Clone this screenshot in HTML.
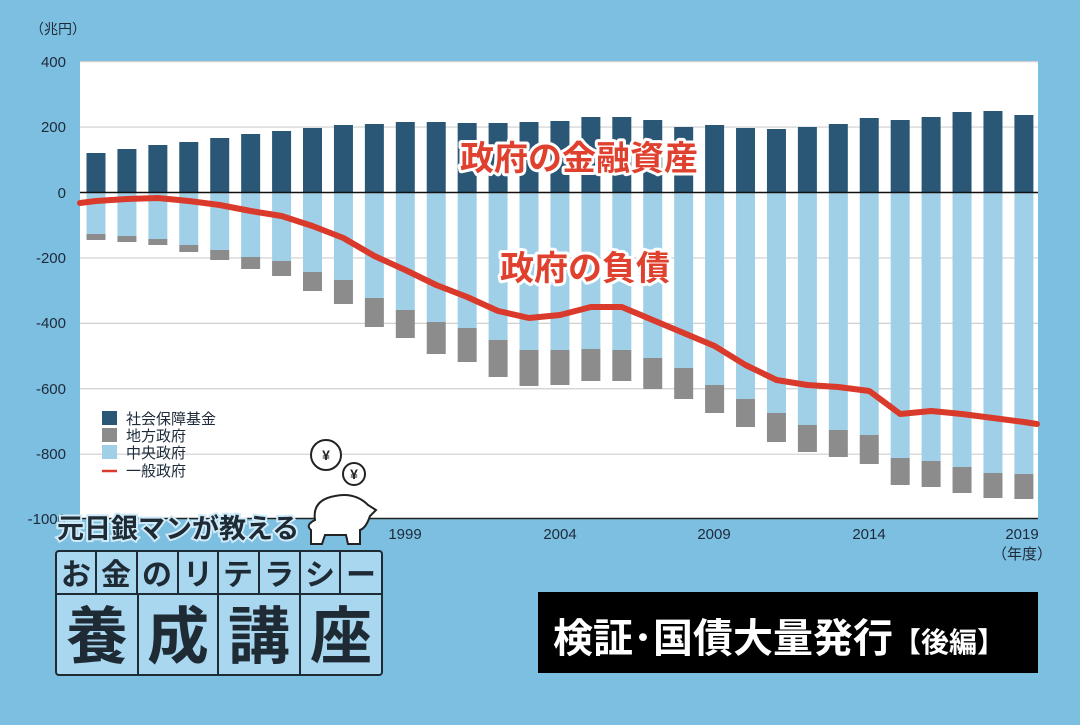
<!DOCTYPE html>
<html><head><meta charset="utf-8">
<style>
html,body{margin:0;padding:0;}
body{width:1080px;height:720px;overflow:hidden;background:#7dbfe0;font-family:"Liberation Sans","Noto Sans CJK JP",sans-serif;}
svg text{font-family:"Liberation Sans","Noto Sans CJK JP",sans-serif;}
</style></head><body>
<svg id="s" width="1080" height="720" xmlns="http://www.w3.org/2000/svg">
<rect x="0" y="0" width="1080" height="720" fill="#7dbfe0"/>
<rect x="80" y="62" width="958" height="457" fill="#ffffff"/>
<g id="grid"></g>
<g id="bars"></g>
<line x1="80" y1="192.5" x2="1038" y2="192.5" stroke="#111" stroke-width="1.5"/>
<line x1="80" y1="518.5" x2="1038" y2="518.5" stroke="#222" stroke-width="1.5"/>
<polyline id="line" fill="none" stroke="#d93a2b" stroke-width="6" stroke-linejoin="round" stroke-linecap="round"/>
<g font-size="15" fill="#1d2a3a" text-anchor="end">
<text x="66" y="67">400</text><text x="66" y="132">200</text><text x="66" y="198">0</text>
<text x="66" y="263">-200</text><text x="66" y="328">-400</text><text x="66" y="394">-600</text>
<text x="66" y="459">-800</text><text x="66" y="524">-1000</text>
</g>
<text x="30" y="34" font-size="14" fill="#1d2a3a">（兆円）</text>
<g font-size="15" fill="#1d2a3a" text-anchor="middle">
<text x="405" y="539">1999</text><text x="560" y="539">2004</text><text x="714" y="539">2009</text>
<text x="869" y="539">2014</text><text x="1022" y="539">2019</text>
<text x="1022" y="559">（年度）</text>
</g>
<g font-size="34" font-weight="bold" fill="#e0402e" stroke="#fff" stroke-width="6" paint-order="stroke" stroke-linejoin="round">
<text x="460" y="170">政府の金融資産</text>
<text x="500" y="280">政府の負債</text>
</g>
<g font-size="15" fill="#1d2a3a">
<rect x="102" y="411" width="15" height="14" fill="#2a5775"/><text x="126" y="424">社会保障基金</text>
<rect x="102" y="428" width="15" height="14" fill="#8c8c8c"/><text x="126" y="441">地方政府</text>
<rect x="102" y="445" width="15" height="14" fill="#9fd0e8"/><text x="126" y="458">中央政府</text>
<line x1="102" y1="471" x2="117" y2="471" stroke="#d93a2b" stroke-width="2.5"/><text x="126" y="476">一般政府</text>
</g>
<!-- coins & pig -->
<g fill="#fff" stroke="#222" stroke-width="2">
<circle cx="326" cy="455" r="15"/><circle cx="354" cy="474" r="11"/>
<path d="M315 520 Q312 500 335 496 Q355 492 368 505 L376 510 L370 516 Q366 528 360 530 L360 544 L348 544 L346 535 L325 535 L322 544 L311 544 L311 530 Q305 525 315 520Z"/>
</g>
<g font-size="14" font-weight="bold" fill="#222" text-anchor="middle"><text x="326" y="460">¥</text><text x="354" y="479">¥</text></g>
<!-- logo -->
<text x="57" y="538" font-size="27" font-weight="bold" fill="#1e2a34" stroke="#cfeaf8" stroke-width="4" paint-order="stroke">元日銀マンが教える</text>
<rect x="56" y="551" width="326" height="124" rx="3" fill="#a9d7ef" stroke="#1e2a34" stroke-width="2"/>
<g stroke="#1e2a34" stroke-width="2">
<line x1="56" y1="594" x2="382" y2="594"/>
<line x1="96" y1="551" x2="96" y2="594"/><line x1="137" y1="551" x2="137" y2="594"/>
<line x1="178" y1="551" x2="178" y2="594"/><line x1="218" y1="551" x2="218" y2="594"/>
<line x1="259" y1="551" x2="259" y2="594"/><line x1="300" y1="551" x2="300" y2="594"/>
<line x1="340" y1="551" x2="340" y2="594"/>
<line x1="138" y1="594" x2="138" y2="675"/><line x1="218" y1="594" x2="218" y2="675"/>
<line x1="300" y1="594" x2="300" y2="675"/>
</g>
<g font-size="30" font-weight="bold" fill="#1e2a34" text-anchor="middle">
<text x="76" y="585">お</text><text x="116" y="585">金</text><text x="157" y="585">の</text><text x="198" y="585">リ</text>
<text x="238" y="585">テ</text><text x="279" y="585">ラ</text><text x="320" y="585">シ</text><text x="361" y="585">ー</text>
</g>
<g font-size="62" font-weight="bold" fill="#1e2a34" text-anchor="middle">
<text x="97" y="658">養</text><text x="178" y="658">成</text><text x="259" y="658">講</text><text x="341" y="658">座</text>
</g>
<rect x="538" y="592" width="500" height="81" fill="#000"/>
<text x="553" y="652" font-size="40" font-weight="bold" fill="#fff">検証･国債大量発行<tspan font-size="28">【後編】</tspan></text>
</svg>
<script>
var ns="http://www.w3.org/2000/svg";
function y(v){return 192.5-v*0.3271;}
var g=document.getElementById("grid");
[400,200,-200,-400,-600,-800].forEach(function(v){var l=document.createElementNS(ns,"line");l.setAttribute("x1",80);l.setAttribute("x2",1038);l.setAttribute("y1",y(v));l.setAttribute("y2",y(v));l.setAttribute("stroke","#cfcfcf");l.setAttribute("stroke-width","1.2");g.appendChild(l);});
var tops=[153,149,145,142,138,134,131,128,125,124,122,122,123,123,122,121,117,117,120,127,125,128,129,127,124,118,120,117,112,111,115];
var light=[234,236,239,245,250,257,261,272,280,298,310,322,328,340,350,350,349,350,358,368,385,399,413,425,430,435,458,461,467,473,474];
var gray=[240,242,245,252,260,269,276,291,304,327,338,354,362,377,386,385,381,381,389,399,413,427,442,452,457,464,485,487,493,498,499];
var red=[201,199,198,201,205,211,216,226,238,256,270,285,297,311,318,315,307,307,320,333,346,365,380,385,387,391,414,411,414,418,422];
var b=document.getElementById("bars");
function r(x,y1,y2,c){var e=document.createElementNS(ns,"rect");e.setAttribute("x",x);e.setAttribute("y",Math.min(y1,y2));e.setAttribute("width",19);e.setAttribute("height",Math.abs(y2-y1));e.setAttribute("fill",c);b.appendChild(e);}
var pts=["80,203"];
for(var i=0;i<31;i++){var cx=96+30.93*i;var x=cx-9.5;
r(x,tops[i],192.5,"#2a5775");r(x,192.5,light[i],"#9fd0e8");r(x,light[i],gray[i],"#8c8c8c");
pts.push(cx.toFixed(1)+","+red[i]);}
pts.push("1037,424");
document.getElementById("line").setAttribute("points",pts.join(" "));
</script>
</body></html>
